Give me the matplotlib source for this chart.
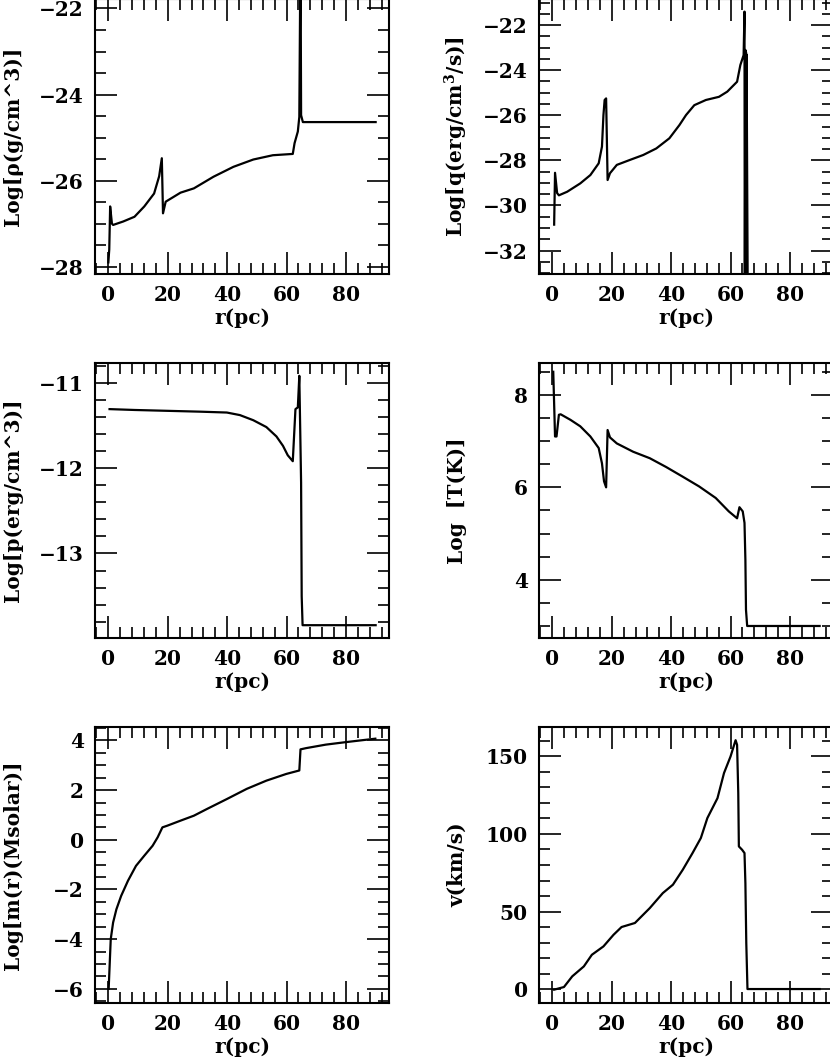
import matplotlib
matplotlib.use("Agg")
import matplotlib.pyplot as plt
from matplotlib.ticker import MultipleLocator

plt.rcParams["font.family"] = ["DejaVu Serif"]
plt.rcParams["font.weight"] = "bold"
plt.rcParams["mathtext.fontset"] = "dejavuserif"
plt.rcParams["mathtext.default"] = "bf"

# --- data (r in pc) ---
r_rho = [0.0, 0.3, 0.6, 1.2, 1.6, 5.0, 8.8, 12.1, 15.4, 17.1, 18.0, 18.4, 19.3,
         24.3, 28.8, 35.4, 42.1, 48.8, 55.4, 62.1, 62.7, 63.8, 64.3, 64.7, 64.9,
         65.5, 90.0]
log_rho = [-27.9, -27.6, -26.6, -27.0, -27.03, -26.95, -26.84, -26.6, -26.3,
           -25.9, -25.48, -26.76, -26.49, -26.28, -26.18, -25.91, -25.68,
           -25.51, -25.41, -25.38, -25.13, -24.86, -24.52, -20.5, -24.48,
           -24.64, -24.64]

r_q = [0.6, 0.9, 1.6, 2.2, 5.0, 9.4, 12.8, 15.6, 16.7, 17.2, 17.6, 18.1, 18.6,
       19.4, 21.7, 26.1, 30.6, 35.0, 39.4, 42.8, 45.0, 47.8, 51.7, 56.1, 58.9,
       62.2, 63.3, 64.4, 64.7, 64.8, 65.0, 65.1, 65.2, 65.3, 65.4, 66.0, 90.0]
log_q = [-30.85, -28.55, -29.45, -29.55, -29.39, -29.02, -28.65, -28.13, -27.39,
         -25.99, -25.32, -25.25, -28.87, -28.57, -28.2, -27.98, -27.76, -27.47,
         -27.02, -26.43, -25.99, -25.55, -25.32, -25.18, -24.95, -24.51, -23.77,
         -23.33, -21.4, -36.0, -23.1, -36.0, -23.2, -36.0, -23.3, -40.0, -40.0]

r_p = [0.4, 8.8, 19.9, 31.0, 39.9, 44.3, 48.8, 53.2, 56.6, 58.8, 60.4, 62.1,
       63.0, 63.8, 64.3, 64.9, 65.1, 65.4, 90.0]
log_p = [-11.31, -11.32, -11.33, -11.34, -11.35, -11.38, -11.44, -11.52, -11.63,
         -11.74, -11.85, -11.92, -11.31, -11.29, -10.92, -12.17, -13.5, -13.84,
         -13.84]

r_T = [0.3, 0.9, 1.4, 2.2, 2.8, 6.1, 9.4, 12.8, 15.6, 16.7, 17.4, 18.1, 18.6,
       19.4, 21.7, 27.2, 32.8, 38.3, 43.9, 49.4, 55.0, 59.4, 62.2, 63.0, 64.1,
       64.7, 65.0, 65.2, 65.6, 90.0]
log_T = [8.5, 7.1, 7.1, 7.57, 7.58, 7.46, 7.32, 7.1, 6.85, 6.52, 6.13, 6.0, 7.24,
         7.08, 6.95, 6.77, 6.63, 6.44, 6.23, 6.02, 5.77, 5.48, 5.33, 5.57, 5.48,
         5.23, 4.43, 3.35, 3.0, 3.0]

r_m = [0.1, 0.8, 1.6, 2.7, 4.3, 6.6, 9.3, 12.1, 14.9, 16.6, 18.2, 19.9, 24.3,
       28.8, 33.2, 39.9, 46.6, 53.2, 59.9, 64.3, 64.7, 66.6, 73.2, 79.9, 89.9]
log_m = [-6.0, -4.0, -3.33, -2.8, -2.26, -1.65, -1.05, -0.64, -0.24, 0.1, 0.5,
         0.57, 0.77, 0.97, 1.24, 1.64, 2.05, 2.38, 2.65, 2.79, 3.64, 3.69, 3.83,
         3.93, 4.07]

r_v = [0.6, 3.9, 6.7, 10.6, 13.3, 17.2, 20.6, 23.3, 27.8, 32.8, 37.2, 40.6,
       43.9, 47.2, 50.0, 52.2, 55.6, 57.8, 60.0, 61.7, 62.2, 62.6, 62.8, 63.9,
       64.7, 65.0, 65.3, 65.7, 90.0]
v = [-0.4, 1.3, 8.2, 14.6, 22.1, 27.5, 35.0, 40.0, 42.6, 52.2, 61.9, 67.3,
     76.9, 87.7, 97.4, 110.3, 123.1, 139.3, 150.0, 160.5, 157.5, 126.4, 92.0,
     89.8, 87.7, 68.3, 29.7, 0.0, 0.0]

panels = [
    (r_rho, log_rho, "Log[\u03c1(g/cm^3)]", (-28.17, -21.78), 2, 0.5),
    (r_q, log_q, "Log[q(erg/cm$^{3}$/s)]", (-33.04, -20.84), 2, 0.5),
    (r_p, log_p, "Log[p(erg/cm^3)]", (-13.99, -10.77), 1, 0.2),
    (r_T, log_T, "Log  [T(K)]", (2.74, 8.69), 2, 0.5),
    (r_m, log_m, "Log[m(r)(Msolar)]", (-6.57, 4.54), 2, 0.5),
    (r_v, v, "v(km/s)", (-9.0, 169.0), 50, 10),
]

W, H = 830, 1059
fig = plt.figure(figsize=(W / 100, H / 100), dpi=100)

lefts = [95, 539]
rows = [(-1, 274), (363, 638), (727, 1003)]
aw = 294

for i, (x, y, lab, ylim, major, minor) in enumerate(panels):
    row, col = divmod(i, 2)
    top, bot = rows[row]
    ax = fig.add_axes([lefts[col] / W, (H - bot) / H, aw / W, (bot - top) / H])
    ax.plot(x, y, color="black", lw=1.6)
    ax.set_xlim(-4.5, 94.5)
    ax.set_ylim(*ylim)
    ax.xaxis.set_major_locator(MultipleLocator(20))
    ax.xaxis.set_minor_locator(MultipleLocator(4))
    ax.yaxis.set_major_locator(MultipleLocator(major))
    ax.yaxis.set_minor_locator(MultipleLocator(minor))
    ax.tick_params(which="both", direction="in", top=True, right=True,
                   labelsize=14.5, width=1.2, color="black")
    ax.tick_params(which="major", length=16, pad=8)
    ax.tick_params(which="minor", length=8)
    for s in ax.spines.values():
        s.set_linewidth(1.5)
    ax.set_xlabel("r(pc)", fontsize=14.5, fontweight="bold", va="center")
    ax.xaxis.set_label_coords(0.5, -0.16)
    ax.set_ylabel(lab, fontsize=14.5, fontweight="bold", va="center")
    ax.yaxis.set_label_coords(-0.28, 0.5)

plt.savefig("out.png", dpi=100)
